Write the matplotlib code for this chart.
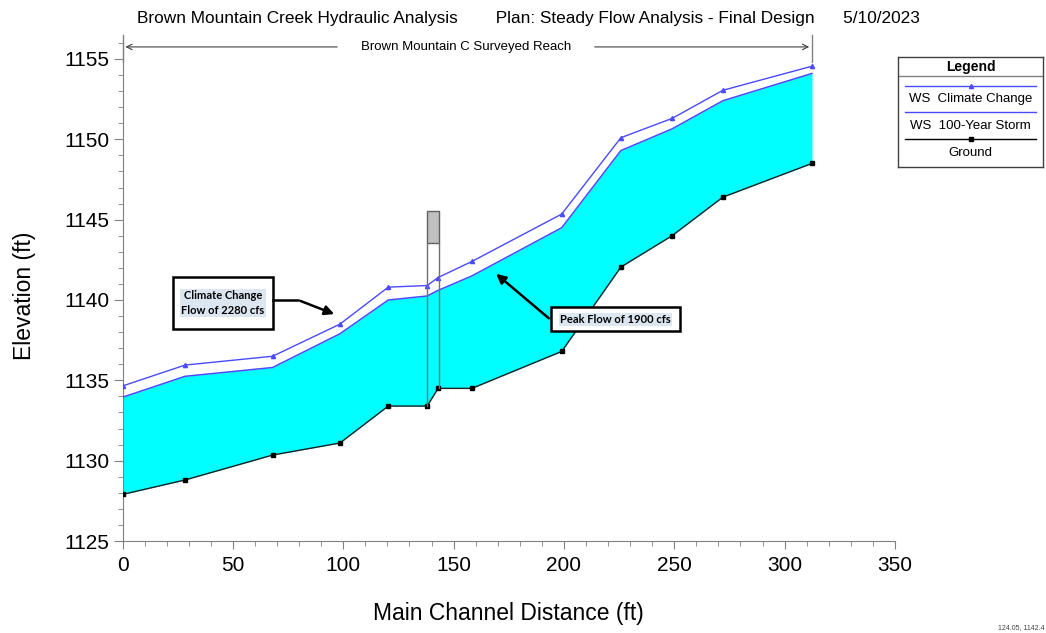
import numpy as np
import matplotlib
matplotlib.use("Agg")
import matplotlib.pyplot as plt
from matplotlib.patches import Rectangle

plt.rcParams['font.family'] = ['Liberation Sans', 'DejaVu Sans']

# main channel distance (ft) of each cross section
dist = [0, 28.3, 68, 98.5, 120.4, 138, 143, 158.3, 199, 225.8, 249, 272, 312.4]
# water surface elevations (ft)
ws_climate = [1134.65, 1135.95, 1136.5, 1138.5, 1140.8, 1140.9, 1141.4, 1142.4,
              1145.35, 1150.1, 1151.3, 1153.05, 1154.55]
ws_100yr = [1133.95, 1135.25, 1135.8, 1137.9, 1140.0, 1140.25, 1140.6, 1141.5,
            1144.5, 1149.3, 1150.65, 1152.4, 1154.1]
# channel invert
ground = [1127.9, 1128.8, 1130.35, 1131.1, 1133.4, 1133.4, 1134.5, 1134.5,
          1136.8, 1142.05, 1144.0, 1146.4, 1148.5]

# bridge (upstream / downstream faces and deck)
bridge_x = [138, 143.5]
deck_low, deck_high = 1143.55, 1145.55

blue = '#4a4aff'

fig = plt.figure(figsize=(10.46, 6.33), dpi=100)
ax = fig.add_axes([0.1172, 0.1453, 0.7384, 0.792])

ax.fill_between(dist, ground, ws_100yr, color='#00ffff', lw=0, zorder=1)
ax.plot(dist, ws_100yr, color=blue, lw=1.1, zorder=3)
ax.plot(dist, ws_climate, color=blue, lw=1.0, marker='^', ms=3, zorder=3)
ax.plot(dist, ground, color='#202020', lw=1.0, marker='s', ms=3,
        mfc='black', mec='black', zorder=4)

# bridge
ax.add_patch(Rectangle((bridge_x[0], deck_low), bridge_x[1] - bridge_x[0],
                       deck_high - deck_low, fc='#c0c0c0', ec='#606060', lw=1, zorder=5))
g_up = np.interp(bridge_x[0], dist, ground)
g_dn = np.interp(bridge_x[1], dist, ground)
ax.plot([bridge_x[0], bridge_x[0]], [g_up, deck_low], color='#707070', lw=1, zorder=5)
ax.plot([bridge_x[1], bridge_x[1]], [g_dn, deck_low], color='#707070', lw=1, zorder=5)

ax.set_xlim(0, 350)
ax.set_ylim(1125, 1156.2)
ax.set_xticks(np.arange(0, 351, 50))
ax.set_xticks(np.arange(0, 351, 10), minor=True)
ax.set_yticks(np.arange(1125, 1156, 5))
ax.set_yticks(np.arange(1125, 1157, 1), minor=True)
for s in ['top', 'right']:
    ax.spines[s].set_visible(False)
for s in ['left', 'bottom']:
    ax.spines[s].set_color('#808080')
ax.tick_params(which='both', colors='#808080', labelcolor='black', labelsize=15)
ax.tick_params(axis='y', which='major', length=6.5, pad=3)
ax.tick_params(axis='y', which='minor', length=3.6)
ax.tick_params(axis='x', which='major', length=5.8, pad=5)
ax.tick_params(axis='x', which='minor', length=3.6)
ax.set_xlabel('Main Channel Distance (ft)', fontsize=16.5)
ax.set_ylabel('Elevation (ft)', fontsize=16.5)
ax.xaxis.set_label_coords(0.5, -0.122)
ax.yaxis.set_label_coords(-0.112, 0.49)

# reach label
reach_y = 1155.75
ax.annotate('', xy=(0, reach_y), xytext=(98.5, reach_y),
            arrowprops=dict(arrowstyle='->', color='#404040', lw=0.8), annotation_clip=False)
ax.annotate('', xy=(312.4, reach_y), xytext=(212.7, reach_y),
            arrowprops=dict(arrowstyle='->', color='#404040', lw=0.8), annotation_clip=False)
ax.text(155.5, reach_y, 'Brown Mountain C Surveyed Reach', ha='center', va='center',
        fontsize=9.5, clip_on=False)
ax.plot([0, 0], [1154.8, 1156.5], color='#808080', lw=1, clip_on=False)
ax.plot([312.4, 312.4], [1154.8, 1156.5], color='#808080', lw=1, clip_on=False)

# callouts
ax.add_patch(Rectangle((22.8, 1138.19), 45.3, 3.24, fc='white', ec='black', lw=1.8, zorder=6))
ax.text(45.45, 1139.81, 'Climate Change\nFlow of 2280 cfs', ha='center', va='center',
        fontsize=8, fontweight='bold', family=['Lato', 'DejaVu Sans'], linespacing=1.5,
        bbox=dict(boxstyle='square,pad=0.1', fc='#dce6f1', ec='none'), zorder=7)
ax.plot([68.1, 79.5], [1140.0, 1140.0], color='black', lw=1.8, zorder=6)
ax.annotate('', xy=(97.1, 1139.06), xytext=(79.5, 1140.0),
            arrowprops=dict(arrowstyle='-|>', color='black', lw=1.8, mutation_scale=14), zorder=6)

ax.add_patch(Rectangle((194.1, 1138.07), 58.5, 1.49, fc='white', ec='black', lw=1.8, zorder=6))
ax.text(223.35, 1138.8, 'Peak Flow of 1900 cfs', ha='center', va='center',
        fontsize=8, fontweight='bold', family=['Lato', 'DejaVu Sans'],
        bbox=dict(boxstyle='square,pad=0.1', fc='#dce6f1', ec='none'), zorder=7)
ax.annotate('', xy=(168.3, 1141.74), xytext=(194.1, 1138.75),
            arrowprops=dict(arrowstyle='-|>', color='black', lw=1.8, mutation_scale=14), zorder=6)

# header
fig.text(0.505, 0.971,
         'Brown Mountain Creek Hydraulic Analysis        Plan: Steady Flow Analysis - Final Design      5/10/2023',
         ha='center', va='center', fontsize=12.45)
fig.text(0.999, 0.003, '124.05, 1142.4', ha='right', va='bottom', fontsize=5, color='#404040')

# legend box
lg = fig.add_axes([898 / 1046, 1 - 167 / 633, 145 / 1046, 110 / 633])
lg.set_xlim(0, 1)
lg.set_ylim(0, 1)
lg.set_xticks([])
lg.set_yticks([])
for s in lg.spines.values():
    s.set_color('#404040')
    s.set_linewidth(1)
lg.text(0.5, 0.909, 'Legend', ha='center', va='center', fontsize=10, fontweight='bold')
lg.plot([0, 1], [0.827, 0.827], color='#808080', lw=1)
lg.plot([0.05, 0.95], [0.736, 0.736], color=blue, lw=1)
lg.plot([0.5], [0.736], color=blue, marker='^', ms=3)
lg.text(0.5, 0.618, 'WS  Climate Change', ha='center', va='center', fontsize=9.5)
lg.plot([0.05, 0.95], [0.5, 0.5], color=blue, lw=1)
lg.text(0.5, 0.373, 'WS  100-Year Storm', ha='center', va='center', fontsize=9.5)
lg.plot([0.05, 0.95], [0.255, 0.255], color='black', lw=1)
lg.plot([0.5], [0.255], color='black', marker='s', ms=3)
lg.text(0.5, 0.127, 'Ground', ha='center', va='center', fontsize=9.5)

fig.savefig('out.png', dpi=100)
